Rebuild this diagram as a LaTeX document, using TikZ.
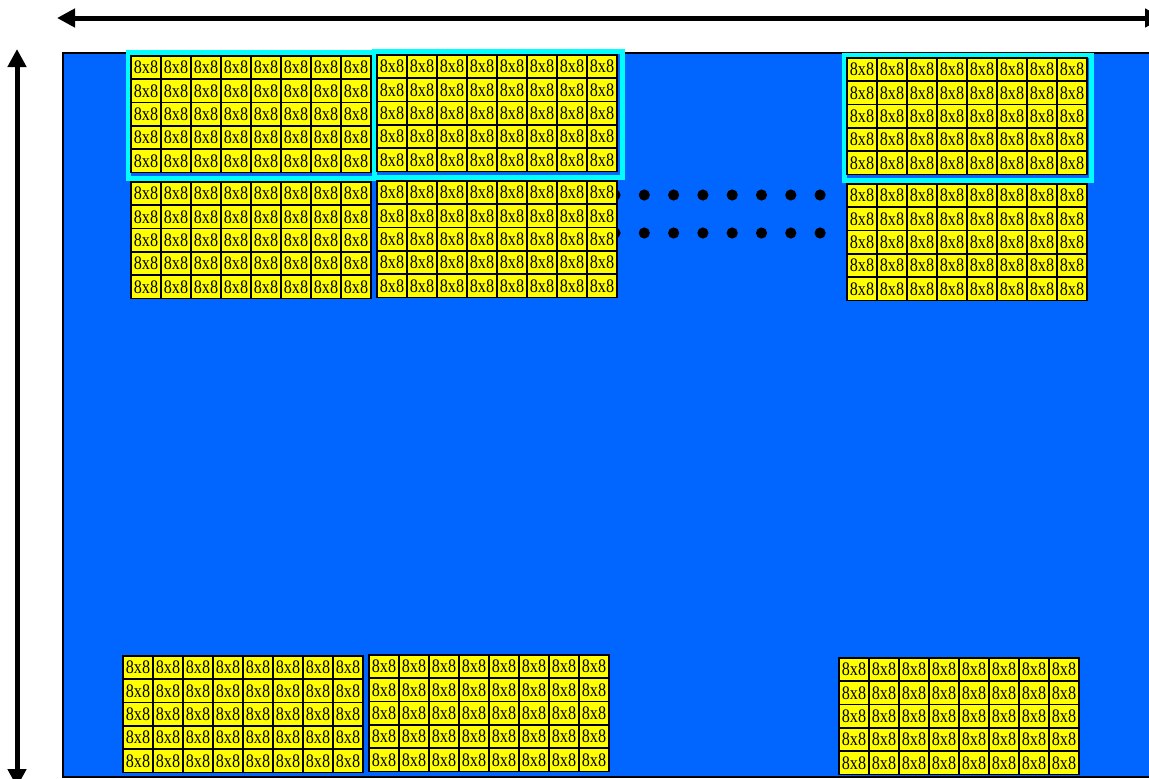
\documentclass[tikz,border=0pt]{standalone}
\usepackage{fontspec}
\setmainfont{Liberation Serif}
\usetikzlibrary{arrows.meta}
\definecolor{bgblue}{RGB}{0,102,255}
\definecolor{cellyellow}{RGB}{255,255,0}
\definecolor{framecyan}{RGB}{0,255,255}
\newcommand{\celltext}{\raisebox{-1pt}{\scalebox{1}[1.18]{8x8}}}
\tikzset{
  cell/.style={draw=black, fill=cellyellow, line width=1.7pt, minimum width=30pt,
    minimum height=23.3pt, inner sep=0pt, outer sep=0pt, anchor=north west,
    font=\fontsize{16.2}{16.2}\selectfont},
  dimarrow/.style={line width=5pt, {Triangle[length=18pt,width=18pt]}-{Triangle[length=18pt,width=18pt]}},
  cyanframe/.style={draw=framecyan, line width=5pt},
  dot/.style={fill=black}
}
\begin{document}
\begin{tikzpicture}[x=1pt,y=-1pt]
\useasboundingbox (0,0) rectangle (1149,779);
% background panel
\draw[fill=bgblue, draw=black, line width=1.5pt] (63,53) rectangle (1165,777);
% dots
\foreach \k in {0,...,7} {
  \fill[dot] (615+\k*29.3,195) circle (5.6);
  \fill[dot] (615+\k*29.3,233) circle (5.6);
}
% cyan frames
\draw[cyanframe] (128.5,52) rectangle (374,178);
\draw[cyanframe] (374.5,51) rectangle (622,177.5);
\draw[cyanframe] (844.5,55) rectangle (1091,180);
% blocks of cells
\foreach \bx/\by/\bn in {131/56/A, 377/55/B, 847/58/C, 131/182/D, 377/181/E, 847/184/F, 123/656/G, 369/655/H, 839/658/I} {
  \foreach \i in {0,...,7} {
    \foreach \j in {0,...,4} {
      \node[cell] (\bn-\i-\j) at (\bx+\i*30, \by+\j*23.3) {\celltext};
    }
  }
}
% dimension arrows
\coordinate (hl) at (57,18);
\coordinate (hr) at (1163,18);
\coordinate (vt) at (17,49);
\coordinate (vb) at (17,787);
\draw[dimarrow] (hl) -- (hr);
\draw[dimarrow] (vt) -- (vb);
\end{tikzpicture}
\end{document}
